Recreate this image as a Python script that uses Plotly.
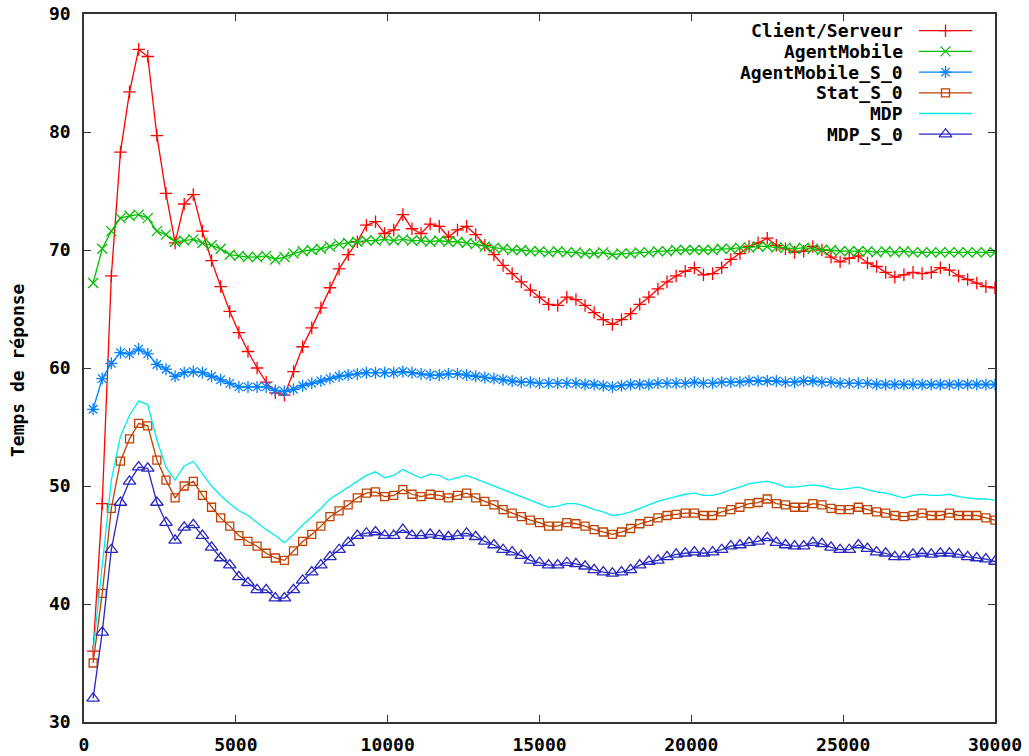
import plotly.graph_objects as go

# sample positions (x axis)
steps = list(range(300, 30001, 300))

client_serveur = [
    36.0, 48.5, 67.8, 78.3, 83.4, 87.0, 86.4, 79.7, 74.8, 70.6,
    73.9, 74.7, 71.6, 69.1, 66.9, 64.8, 63.0, 61.4, 60.0, 58.8,
    57.9, 57.7, 59.7, 61.8, 63.4, 65.1, 66.8, 68.4, 69.6, 70.7,
    72.1, 72.4, 71.4, 71.7, 73.0, 71.8, 71.4, 72.2, 72.0, 71.1,
    71.7, 72.0, 71.3, 70.4, 69.6, 68.7, 68.0, 67.3, 66.6, 66.0,
    65.4, 65.3, 66.0, 65.8, 65.3, 64.7, 64.1, 63.7, 64.1, 64.6,
    65.4, 66.0, 66.7, 67.3, 67.8, 68.2, 68.5, 67.9, 68.0, 68.5,
    69.2, 69.7, 70.3, 70.6, 71.0, 70.4, 70.1, 69.8, 69.9, 70.3,
    70.0, 69.4, 69.0, 69.3, 69.5, 68.9, 68.6, 68.1, 67.7, 67.9,
    68.1, 68.0, 68.1, 68.5, 68.3, 67.8, 67.5, 67.2, 66.9, 66.8,
]

agent_mobile = [
    67.2, 70.1, 71.6, 72.7, 72.9, 73.0, 72.7, 71.6, 71.3, 70.7,
    70.8, 70.9, 70.6, 70.4, 70.1, 69.6, 69.5, 69.4, 69.4, 69.5,
    69.2, 69.4, 69.7, 69.9, 70.0, 70.1, 70.3, 70.5, 70.6, 70.7,
    70.8, 70.8, 70.9, 70.8, 70.9, 70.8, 70.8, 70.7, 70.8, 70.7,
    70.7, 70.6, 70.5, 70.3, 70.2, 70.1, 70.0, 70.0, 69.9, 69.9,
    69.8, 69.9, 69.8, 69.8, 69.7, 69.7, 69.8, 69.6, 69.7, 69.7,
    69.8, 69.8, 69.9, 69.9, 70.0, 70.0, 70.0, 70.0, 70.0, 70.1,
    70.1, 70.2, 70.2, 70.3, 70.3, 70.2, 70.2, 70.1, 70.2, 70.1,
    70.0, 70.0, 69.9, 69.9, 69.9, 69.9, 69.8, 69.9, 69.8, 69.9,
    69.8, 69.8, 69.8, 69.8, 69.8, 69.8, 69.8, 69.8, 69.8, 69.8,
]

agent_mobile_s0 = [
    56.5, 59.1, 60.4, 61.3, 61.2, 61.6, 61.2, 60.3, 59.9, 59.3,
    59.6, 59.7, 59.6, 59.3, 59.0, 58.7, 58.4, 58.4, 58.4, 58.4,
    58.1, 58.0, 58.2, 58.5, 58.7, 58.9, 59.1, 59.3, 59.4, 59.5,
    59.6, 59.6, 59.6, 59.6, 59.7, 59.6, 59.5, 59.4, 59.4, 59.5,
    59.5, 59.4, 59.3, 59.2, 59.1, 59.0, 58.9, 58.8, 58.8, 58.7,
    58.7, 58.7, 58.7, 58.7, 58.6, 58.6, 58.5, 58.4, 58.5, 58.6,
    58.6, 58.6, 58.7, 58.7, 58.7, 58.7, 58.8, 58.7, 58.7, 58.8,
    58.8, 58.8, 58.9, 58.9, 58.9, 58.9, 58.8, 58.8, 58.9, 58.9,
    58.8, 58.8, 58.7, 58.7, 58.7, 58.7, 58.6, 58.6, 58.6, 58.6,
    58.6, 58.6, 58.6, 58.6, 58.6, 58.6, 58.6, 58.6, 58.6, 58.6,
]

stat_s0 = [
    35.0, 40.9, 48.1, 52.1, 54.0, 55.3, 55.1, 52.2, 50.5, 49.0,
    50.0, 50.4, 49.2, 48.2, 47.3, 46.6, 45.8, 45.3, 44.9, 44.3,
    43.9, 43.7, 44.5, 45.3, 45.9, 46.6, 47.4, 47.9, 48.4, 49.0,
    49.4, 49.5, 49.1, 49.2, 49.7, 49.3, 49.1, 49.3, 49.2, 49.0,
    49.2, 49.4, 49.0, 48.7, 48.4, 48.0, 47.7, 47.4, 47.1, 46.9,
    46.6, 46.6, 46.9, 46.8, 46.6, 46.3, 46.1, 45.9, 46.1, 46.4,
    46.8, 47.0, 47.3, 47.5, 47.6, 47.7, 47.7, 47.5, 47.5, 47.8,
    48.0, 48.2, 48.5, 48.6, 48.9, 48.5, 48.4, 48.2, 48.2, 48.5,
    48.4, 48.1, 48.0, 48.0, 48.2, 48.0, 47.8, 47.7, 47.5, 47.4,
    47.5, 47.7, 47.5, 47.5, 47.7, 47.5, 47.5, 47.5, 47.3, 47.1,
]

mdp = [
    36.0, 43.0, 50.5, 54.2, 56.0, 57.2, 56.9, 53.9, 51.6, 50.5,
    51.7, 52.1, 51.0, 50.0, 49.2, 48.5, 47.9, 47.5, 46.9, 46.3,
    45.8, 45.2, 45.9, 46.7, 47.4, 48.1, 48.9, 49.4, 49.9, 50.4,
    50.9, 51.2, 50.7, 50.9, 51.4, 51.0, 50.7, 51.0, 50.9, 50.5,
    50.7, 50.9, 50.6, 50.3, 50.0, 49.7, 49.4, 49.1, 48.8, 48.5,
    48.2, 48.3, 48.5, 48.5, 48.3, 48.0, 47.8, 47.5, 47.6, 47.8,
    48.1, 48.4, 48.7, 48.9, 49.1, 49.3, 49.4, 49.2, 49.2, 49.4,
    49.7, 49.9, 50.2, 50.3, 50.4, 50.2, 49.9, 49.9, 50.0, 50.1,
    50.0, 49.8, 49.7, 49.8, 49.9, 49.7, 49.5, 49.4, 49.2, 49.0,
    49.2, 49.3, 49.2, 49.2, 49.3, 49.1, 49.0, 48.9, 48.9, 48.8,
]

mdp_s0 = [
    32.0, 37.6, 44.6, 48.6, 50.4, 51.6, 51.5, 48.6, 46.9, 45.4,
    46.5, 46.7, 45.8, 44.8, 43.9, 43.3, 42.3, 41.8, 41.2, 41.2,
    40.5, 40.5, 41.2, 42.0, 42.7, 43.3, 44.0, 44.6, 45.2, 45.8,
    46.0, 46.1, 45.8, 45.8, 46.3, 45.8, 45.8, 45.9, 45.8, 45.7,
    45.8, 46.0, 45.7, 45.3, 45.0, 44.6, 44.4, 44.1, 43.7, 43.5,
    43.3, 43.3, 43.5, 43.4, 43.2, 42.9, 42.7, 42.6, 42.7, 42.9,
    43.3, 43.6, 43.7, 44.0, 44.2, 44.3, 44.4, 44.3, 44.4, 44.6,
    44.9, 45.0, 45.2, 45.3, 45.6, 45.2, 45.0, 44.9, 44.9, 45.2,
    45.1, 44.8, 44.6, 44.6, 45.0, 44.7, 44.4, 44.3, 44.0, 44.0,
    44.2, 44.3, 44.2, 44.3, 44.3, 44.2, 44.0, 43.9, 43.8, 43.6,
]

# name, values, colour, marker symbol, marker size
series = [
    ("Client/Serveur", client_serveur, "#ff0000", "cross-thin", 9),
    ("AgentMobile", agent_mobile, "#00c000", "x-thin", 10),
    ("AgentMobile_S_0", agent_mobile_s0, "#0080ff", "asterisk", 10),
    ("Stat_S_0", stat_s0, "#c04000", "square-open", 8),
    ("MDP", mdp, "#00eeee", None, 0),
    ("MDP_S_0", mdp_s0, "#2828c0", "triangle-up-open", 11),
]

FONT = dict(family="DejaVu Sans Mono", size=18, color="#000000", weight="bold")
W, H = 1029, 756
L, R, T, B = 84, 34, 14, 34

fig = go.Figure()

for name, vals, col, sym, sz in series:
    mode = "lines+markers" if sym else "lines"
    fig.add_trace(go.Scatter(
        x=steps, y=vals, mode=mode, name=name, showlegend=False,
        line=dict(color=col, width=1.3),
        marker=dict(symbol=sym or "circle", size=sz,
                    line=dict(color=col, width=1.3), color=col),
    ))

# gnuplot-style key: text right-aligned, sample to the right
pw, ph = W - L - R, H - T - B
text_right = (905 - L) / pw
samp_x = [(919 - L) / pw, (945.5 - L) / pw, (972 - L) / pw]
row0, rowgap = 30.7, 20.7
for k, (name, vals, col, sym, sz) in enumerate(series):
    yy = (H - B - (row0 + k * rowgap)) / ph
    fig.add_annotation(x=text_right, y=yy, xref="paper", yref="paper",
                       text=name, showarrow=False, xanchor="right",
                       yanchor="middle", font=FONT)
    fig.add_trace(go.Scatter(
        x=samp_x, y=[yy] * 3, xaxis="x2", yaxis="y2", mode="lines",
        line=dict(color=col, width=1.3), showlegend=False, hoverinfo="skip"))
    if sym:
        fig.add_trace(go.Scatter(
            x=[samp_x[1]], y=[yy], xaxis="x2", yaxis="y2", mode="markers",
            marker=dict(symbol=sym, size=sz, color=col,
                        line=dict(color=col, width=1.3)),
            showlegend=False, hoverinfo="skip"))

fig.add_annotation(x=(18 - L) / pw, y=(H - B - 370) / ph, xref="paper",
                   yref="paper", text="Temps de réponse", textangle=-90,
                   xanchor="center", yanchor="middle",
                   showarrow=False, font=FONT)

axis_common = dict(
    showgrid=False, zeroline=False, showline=True, linecolor="#333333",
    linewidth=1.5, mirror="ticks", ticks="inside", ticklen=7,
    tickcolor="#333333", tickwidth=1.2, tickfont=FONT, automargin=False,
)
fig.update_layout(
    width=W, height=H,
    margin=dict(l=L, r=R, t=T, b=B, autoexpand=False),
    plot_bgcolor="white", paper_bgcolor="white",
    showlegend=False,
    xaxis=dict(range=[0, 30000], dtick=5000, tick0=0, tickformat="d",
               ticklabelstandoff=6, **axis_common),
    yaxis=dict(range=[30, 90], dtick=10, tick0=30,
               ticklabelstandoff=8, **axis_common),
    xaxis2=dict(range=[0, 1], overlaying="x", visible=False),
    yaxis2=dict(range=[0, 1], overlaying="y", visible=False),
)

# drop the page's default body margin so the figure sits at the top-left
fig.write_html("out.html", config={"displayModeBar": False},
               post_script="document.body.style.margin='0';")
